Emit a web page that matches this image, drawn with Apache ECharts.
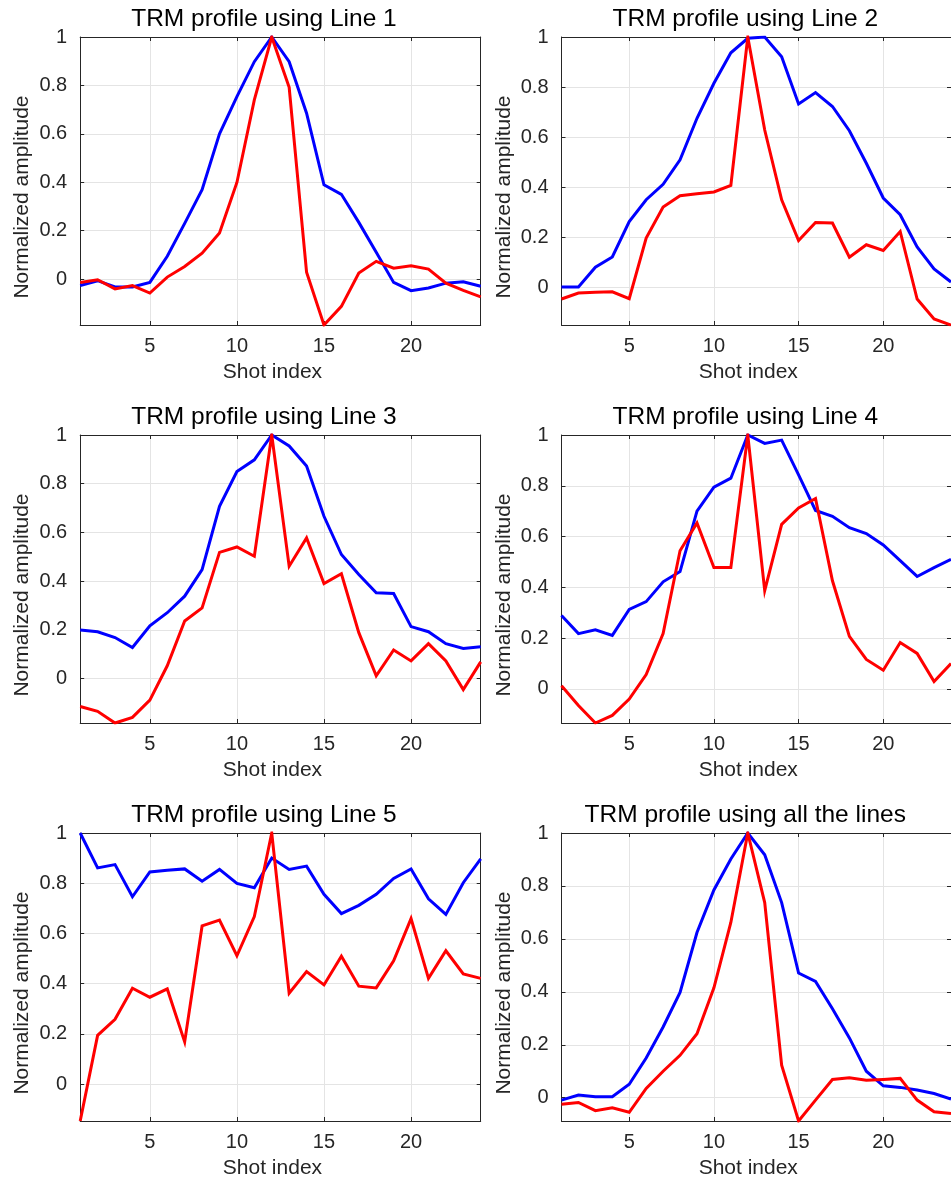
<!DOCTYPE html>
<html>
<head>
<meta charset="utf-8">
<script src="https://cdn.jsdelivr.net/npm/echarts@6/dist/echarts.min.js"></script>
<style>
  html, body { margin: 0; padding: 0; background: #fff; overflow: hidden; }
  #chart { width: 951px; height: 1184px; }
</style>
</head>
<body>
<div id="chart"></div>
<script>
// Shot indices along the x axis
const SHOTS = [1, 2, 3, 4, 5, 6, 7, 8, 9, 10, 11, 12, 13, 14, 15, 16, 17, 18, 19, 20, 21, 22, 23, 24];
const X_TICKS = [5, 10, 15, 20];
const Y_TICKS = [0, 0.2, 0.4, 0.6, 0.8, 1];

const TITLES = [
  'TRM profile using Line 1',
  'TRM profile using Line 2',
  'TRM profile using Line 3',
  'TRM profile using Line 4',
  'TRM profile using Line 5',
  'TRM profile using all the lines'
];

// Blue profiles
const L1_BLUE = [-0.027, -0.007, -0.033, -0.033, -0.014, 0.094, 0.23, 0.369, 0.60, 0.754, 0.898, 1.0, 0.898, 0.685, 0.389, 0.35, 0.234, 0.111, -0.014, -0.048, -0.037, -0.017, -0.011, -0.03];
const L2_BLUE = [0.0, 0.0, 0.079, 0.12, 0.262, 0.349, 0.411, 0.509, 0.675, 0.815, 0.937, 0.995, 1.0, 0.921, 0.732, 0.778, 0.722, 0.625, 0.495, 0.356, 0.289, 0.16, 0.072, 0.02];
const L3_BLUE = [0.199, 0.192, 0.168, 0.127, 0.216, 0.27, 0.338, 0.447, 0.707, 0.85, 0.898, 1.0, 0.955, 0.873, 0.666, 0.509, 0.427, 0.352, 0.349, 0.213, 0.192, 0.143, 0.123, 0.13];
const L4_BLUE = [0.289, 0.218, 0.233, 0.211, 0.313, 0.344, 0.422, 0.462, 0.70, 0.795, 0.83, 1.0, 0.967, 0.98, 0.843, 0.703, 0.68, 0.635, 0.612, 0.567, 0.505, 0.443, 0.478, 0.51];
const L5_BLUE = [1.0, 0.861, 0.874, 0.746, 0.845, 0.852, 0.857, 0.808, 0.855, 0.799, 0.782, 0.90, 0.855, 0.868, 0.756, 0.679, 0.712, 0.756, 0.819, 0.857, 0.738, 0.676, 0.802, 0.897];
const ALL_BLUE = [-0.009, 0.01, 0.004, 0.004, 0.051, 0.15, 0.267, 0.398, 0.624, 0.785, 0.902, 1.0, 0.918, 0.737, 0.471, 0.439, 0.336, 0.226, 0.1, 0.045, 0.039, 0.029, 0.016, -0.005];

// Red profiles
const L1_RED = [-0.014, -0.003, -0.041, -0.027, -0.058, 0.008, 0.052, 0.107, 0.19, 0.399, 0.74, 1.0, 0.792, 0.028, -0.19, -0.113, 0.025, 0.073, 0.045, 0.055, 0.041, -0.017, -0.047, -0.074];
const L2_RED = [-0.048, -0.024, -0.021, -0.019, -0.047, 0.196, 0.32, 0.365, 0.373, 0.38, 0.406, 1.0, 0.628, 0.349, 0.186, 0.258, 0.256, 0.119, 0.169, 0.146, 0.222, -0.048, -0.128, -0.152];
const L3_RED = [-0.115, -0.135, -0.183, -0.16, -0.089, 0.052, 0.236, 0.29, 0.518, 0.54, 0.502, 1.0, 0.461, 0.577, 0.39, 0.43, 0.188, 0.011, 0.117, 0.072, 0.143, 0.072, -0.046, 0.068];
const L4_RED = [0.013, -0.065, -0.134, -0.104, -0.04, 0.057, 0.218, 0.544, 0.654, 0.478, 0.478, 1.0, 0.387, 0.648, 0.713, 0.75, 0.426, 0.207, 0.116, 0.074, 0.183, 0.14, 0.029, 0.10];
const L5_RED = [-0.147, 0.194, 0.258, 0.382, 0.346, 0.379, 0.168, 0.63, 0.653, 0.511, 0.667, 1.0, 0.362, 0.448, 0.395, 0.509, 0.39, 0.383, 0.491, 0.659, 0.421, 0.531, 0.439, 0.421];
const ALL_RED = [-0.025, -0.018, -0.049, -0.038, -0.055, 0.035, 0.1, 0.16, 0.242, 0.415, 0.662, 1.0, 0.737, 0.123, -0.088, -0.009, 0.069, 0.075, 0.066, 0.069, 0.073, -0.009, -0.053, -0.06];

const BLUE_SETS = [L1_BLUE, L2_BLUE, L3_BLUE, L4_BLUE, L5_BLUE, ALL_BLUE];
const RED_SETS = [L1_RED, L2_RED, L3_RED, L4_RED, L5_RED, ALL_RED];

// Panel geometry (3 rows x 2 columns); the right column runs past the page edge
const FONT = '"Liberation Sans", Arial, Helvetica, sans-serif';
const INK = '#262626';
const GRID_LINE = '#e4e4e4';
const COL_LEFT = [80.2, 561.5];
const ROW_TOP = [37, 435, 833];
const PANEL_W = 400.5;
const PANEL_H = 288;

const grids = [], xAxes = [], yAxes = [], series = [], graphics = [];

const pairs = arr => arr.map((v, i) => [SHOTS[i], v]);

for (let k = 0; k < 6; k++) {
  const col = k % 2, row = Math.floor(k / 2);
  const left = COL_LEFT[col], top = ROW_TOP[row];
  grids.push({ left: left, top: top, width: PANEL_W, height: PANEL_H, containLabel: false });

  const yMin = Math.min(...BLUE_SETS[k], ...RED_SETS[k]);

  const axisLine = { show: true, onZero: false, lineStyle: { color: INK, width: 1 } };
  const tick = { show: true, inside: true, length: 4, lineStyle: { color: INK, width: 1 } };

  // bottom x axis (labelled)
  xAxes.push({
    gridIndex: k, type: 'value', position: 'bottom',
    min: SHOTS[0], max: SHOTS[SHOTS.length - 1],
    axisLine: axisLine,
    axisTick: { ...tick, customValues: X_TICKS },
    axisLabel: { customValues: X_TICKS, margin: 11, fontSize: 20, color: INK, fontFamily: FONT },
    splitLine: { show: false },
    name: 'Shot index', nameLocation: 'middle', nameGap: 37,
    nameTextStyle: { fontSize: 21, color: INK, fontFamily: FONT, padding: [0, 16, 0, 0] }
  });
  // top x axis (box edge with ticks, also carries the vertical grid lines)
  xAxes.push({
    gridIndex: k, type: 'value', position: 'top',
    min: SHOTS[0], max: SHOTS[SHOTS.length - 1], interval: 5,
    axisLine: axisLine,
    axisTick: { ...tick, customValues: X_TICKS },
    axisLabel: { show: false },
    splitLine: { show: true, lineStyle: { color: GRID_LINE, width: 1 } }
  });
  // left y axis (labelled)
  yAxes.push({
    gridIndex: k, type: 'value', position: 'left',
    min: yMin, max: 1, interval: 0.2,
    axisLine: axisLine,
    axisTick: { ...tick, customValues: Y_TICKS },
    axisLabel: { customValues: Y_TICKS, margin: 13, fontSize: 20, color: INK, fontFamily: FONT },
    splitLine: { show: true, lineStyle: { color: GRID_LINE, width: 1 } },
    name: 'Normalized amplitude', nameLocation: 'middle', nameGap: 47, nameRotate: 90,
    nameTextStyle: { fontSize: 21, color: INK, fontFamily: FONT, padding: [0, 32, 0, 0] }
  });
  // right y axis (box edge with ticks)
  yAxes.push({
    gridIndex: k, type: 'value', position: 'right',
    min: yMin, max: 1,
    axisLine: axisLine,
    axisTick: { ...tick, customValues: Y_TICKS },
    axisLabel: { show: false },
    splitLine: { show: false }
  });

  series.push({
    type: 'line', xAxisIndex: 2 * k, yAxisIndex: 2 * k,
    data: pairs(BLUE_SETS[k]), showSymbol: false, symbol: 'none',
    lineStyle: { color: '#0000ff', width: 3, join: 'miter' },
    itemStyle: { color: '#0000ff' }, animation: false, z: 3
  });
  series.push({
    type: 'line', xAxisIndex: 2 * k, yAxisIndex: 2 * k,
    data: pairs(RED_SETS[k]), showSymbol: false, symbol: 'none',
    lineStyle: { color: '#ff0000', width: 3, join: 'miter' },
    itemStyle: { color: '#ff0000' }, animation: false, z: 4
  });

  graphics.push({
    type: 'text', x: left + PANEL_W / 2 - 16.5, y: top - 18,
    style: {
      text: TITLES[k], font: '24.5px ' + FONT, fill: '#000',
      textAlign: 'center', textVerticalAlign: 'middle', align: 'center', verticalAlign: 'middle'
    }
  });
}

const chart = echarts.init(document.getElementById('chart'), null, { renderer: 'canvas' });
chart.setOption({
  backgroundColor: '#ffffff',
  animation: false,
  textStyle: { fontFamily: FONT },
  grid: grids,
  xAxis: xAxes,
  yAxis: yAxes,
  series: series,
  graphic: graphics
});
</script>
</body>
</html>
